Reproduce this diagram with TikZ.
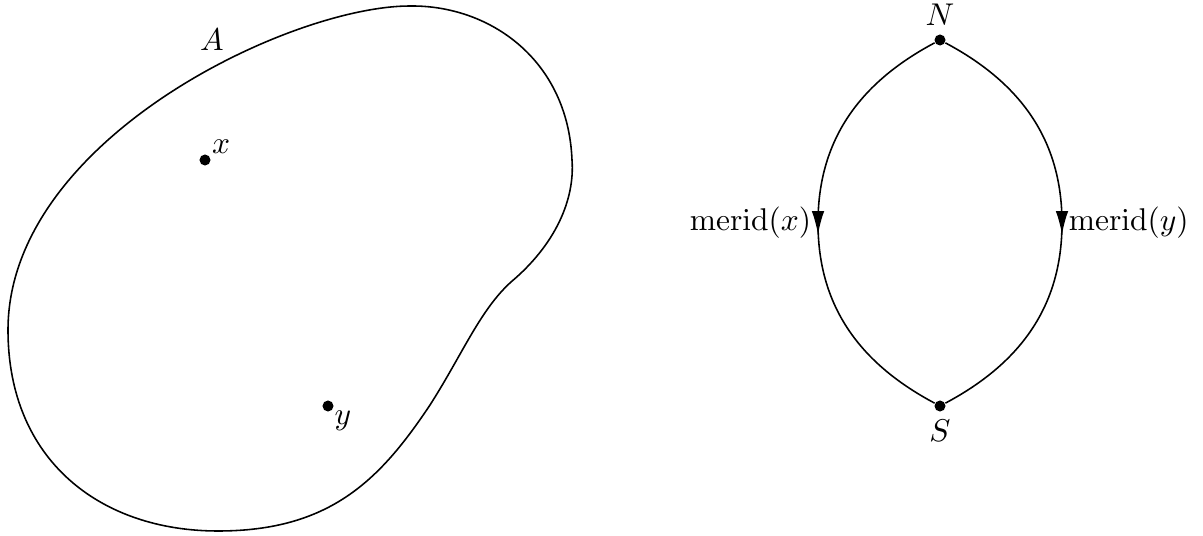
\documentclass[tikz,border=0pt]{standalone}
\usetikzlibrary{arrows.meta,decorations.markings}
\tikzset{
  pt/.style={circle,fill=black,inner sep=0pt,minimum size=3.5pt},
  midarrow/.style={decoration={markings,mark=at position 0.5 with {\arrow[xshift=3.7pt]{Latex[length=7.5pt,width=4pt]}}},postaction={decorate}},
  curve/.style={line width=0.5pt}
}
\begin{document}
\begin{tikzpicture}[x=0.01117cm,y=-0.01117cm]
\useasboundingbox (0,0) rectangle (1203,536);
% blob A
\coordinate (c1) at (511,282);
\coordinate (c2) at (572,160);
\coordinate (c3) at (410,6);
\coordinate (c4) at (8,330);
\coordinate (c5) at (218,531);
\coordinate (c6) at (430,405);
\draw[curve] (c1) .. controls (555,245) and (575,200) .. (c2)
  .. controls (568,60) and (490,5) .. (c3)
  .. controls (290,6) and (8,140) .. (c4)
  .. controls (8,460) and (100,531) .. (c5)
  .. controls (330,531) and (380,480) .. (c6)
  .. controls (462,355) and (480,310) .. (c1);
\node (A) at (212,40) {$A$};
\node[pt] (x) at (205,160) {};
\node (xl) at (221,147) {$x$};
\node[pt] (y) at (328,406) {};
\node (yl) at (343,421) {$y$};
% suspension
\node[pt] (N) at (940,40) {};
\node[pt] (S) at (940,406) {};
\node[above=-1pt] (Nl) at (N.north) {$N$};
\node[below=-1pt] (Sl) at (S.south) {$S$};
\coordinate (ml) at (818,223);
\coordinate (mr) at (1062,223);
\draw[curve,midarrow] (N) to[out=-152,in=90] (ml) to[out=-90,in=152] (S);
\draw[curve,midarrow] (N) to[out=-28,in=90] (mr) to[out=-90,in=28] (S);
\node[anchor=east,inner sep=2pt] (mxl) at (ml) {$\mathrm{merid}(x)$};
\node[anchor=west,inner sep=2pt] (myl) at (mr) {$\mathrm{merid}(y)$};
\end{tikzpicture}
\end{document}
